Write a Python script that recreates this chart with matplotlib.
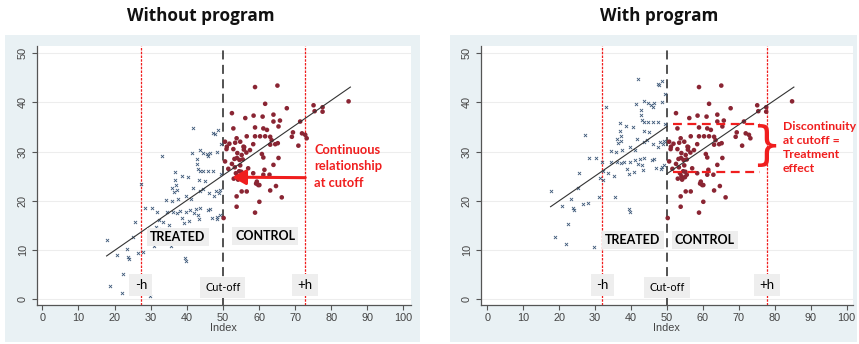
import matplotlib
matplotlib.use('Agg')
import matplotlib.pyplot as plt
from matplotlib.patches import Rectangle

# ---------------- data ----------------
treated_x = [17.8, 18.7, 20.8, 22.0, 22.4, 23.4, 23.8, 24.0, 25.2, 25.6,
             26.6, 27.3, 28.0, 28.4, 29.8, 30.3, 31.0, 31.4, 31.8, 32.3,
             32.3, 33.1, 33.5, 34.3, 34.5, 35.2, 35.6, 35.8, 36.0, 36.2,
             36.4, 36.8, 36.8, 37.1, 37.3, 37.5, 37.2, 38.0, 38.6, 38.8,
             39.3, 39.5, 39.7, 39.7, 39.7, 40.4, 40.7, 41.1, 41.4, 41.7,
             41.8, 41.0, 42.0, 42.5, 42.8, 42.9, 43.0, 43.4, 43.0, 43.5,
             43.7, 43.7, 43.7, 43.7, 44.6, 45.5, 46.0, 46.5, 44.5, 44.6,
             45.1, 45.8, 46.0, 46.2, 46.4, 47.0, 47.4, 47.4, 47.6, 47.8,
             48.0, 48.3, 48.5, 48.5, 48.7, 48.8, 49.2, 49.4, 49.5, 49.3]
treated_y_without = [12.0, 2.6, 9.0, 1.3, 5.2, 10.3, 8.6, 8.2, 12.7, 15.6,
                     9.4, 23.4, 9.6, 18.6, 0.7, 18.6, 10.8, 14.6, 17.8, 16.1,
                     14.2, 29.1, 15.6, 20.1, 17.8, 15.1, 10.8, 20.0, 22.5, 17.8,
                     21.8, 25.9, 24.2, 23.2, 22.2, 20.3, 17.6, 17.9, 25.1, 16.5,
                     15.5, 8.4, 7.7, 21.0, 17.8, 24.9, 15.8, 20.4, 29.7, 22.5,
                     34.8, 18.2, 17.5, 18.4, 28.5, 27.5, 26.5, 16.3, 17.2, 24.2,
                     26.1, 21.9, 18.6, 30.3, 29.8, 29.5, 29.0, 29.8, 22.3, 26.1,
                     24.0, 18.2, 26.1, 21.5, 18.4, 16.6, 26.1, 33.7, 21.0, 33.6,
                     22.0, 16.4, 30.0, 16.8, 34.4, 21.6, 22.2, 25.5, 31.6, 17.2]
treated_y_with = [22.0, 12.6, 19.0, 11.3, 15.2, 20.3, 18.6, 18.2, 22.7, 25.6,
                  19.4, 33.4, 19.6, 28.6, 10.7, 28.6, 20.8, 24.6, 27.8, 26.1,
                  24.2, 39.1, 25.6, 30.1, 27.8, 25.1, 20.8, 30.0, 32.5, 27.8,
                  31.8, 35.9, 34.2, 33.2, 32.2, 30.3, 27.6, 27.9, 35.1, 26.5,
                  25.5, 18.4, 17.7, 31.0, 27.8, 34.9, 25.8, 30.4, 39.7, 32.5,
                  44.8, 28.2, 27.5, 28.4, 38.5, 37.5, 36.5, 26.3, 27.2, 34.2,
                  36.1, 31.9, 28.6, 40.3, 39.8, 39.5, 39.0, 39.8, 32.3, 36.1,
                  34.0, 28.2, 36.1, 31.5, 28.4, 26.6, 36.1, 43.7, 31.0, 43.6,
                  32.0, 26.4, 40.0, 26.8, 44.4, 31.6, 32.2, 35.5, 41.6, 27.2]

control_x = [50.2, 50.6, 51.1, 50.6, 51.0, 51.5, 52.5, 52.5, 52.9, 52.9,
             53.0, 53.3, 53.4, 53.8, 53.8, 53.8, 53.9, 54.0, 54.0, 54.2,
             54.5, 54.8, 54.8, 55.0, 55.2, 55.2, 55.5, 55.7, 55.9, 56.2,
             56.6, 56.6, 57.0, 58.4, 58.4, 58.5, 58.9, 58.9, 58.9, 58.9,
             59.4, 59.8, 60.1, 60.3, 60.8, 61.0, 61.2, 61.2, 61.2, 61.7,
             61.7, 62.2, 62.9, 63.1, 63.1, 63.1, 63.5, 64.0, 64.0, 64.0,
             64.5, 64.7, 65.1, 65.4, 65.8, 66.3, 67.7, 69.1, 69.4, 70.9,
             71.4, 71.9, 72.8, 73.2, 75.1, 75.4, 77.6, 77.6, 84.8, 53.2,
             54.6, 55.5, 56.5, 57.5, 55.8, 51.8, 59.2, 60.1, 61.5, 65.4,
             65.2, 53.6, 54.3, 55.1]
control_y = [16.5, 32.0, 31.0, 28.0, 30.5, 26.5, 37.8, 27.5, 34.7, 30.5,
             24.5, 26.8, 31.8, 32.7, 20.9, 18.8, 28.7, 29.7, 25.0, 24.3,
             26.0, 32.0, 27.2, 24.8, 29.3, 21.9, 25.3, 31.0, 30.9, 36.8,
             33.1, 21.9, 26.6, 25.6, 31.5, 37.3, 43.1, 34.9, 33.1, 17.6,
             23.9, 23.2, 19.8, 33.1, 29.5, 37.1, 34.7, 28.8, 25.3, 39.7,
             33.1, 34.4, 25.3, 31.4, 33.0, 22.1, 32.3, 37.5, 36.1, 27.3,
             31.5, 23.0, 43.4, 28.7, 36.3, 20.7, 38.8, 33.0, 33.9, 31.2,
             36.1, 33.7, 33.4, 32.7, 39.4, 38.2, 39.0, 38.1, 40.2, 28.5,
             28.3, 28.4, 29.8, 30.3, 30.4, 31.6, 23.5, 23.2, 26.3, 35.1,
             31.7, 25.6, 24.6, 25.9]

# fitted lines (end points)
fit_without_x = [17.8, 85.3]
fit_without_y = [8.8, 43.1]
fit_with_left_x = [17.6, 50.0]
fit_with_left_y = [18.8, 35.1]
fit_with_right_x = [50.0, 85.3]
fit_with_right_y = [25.5, 43.1]

cutoff = 50
bw_without = [27.3, 72.8]
bw_with = [32.0, 77.9]
jump_levels = [35.6, 25.9]
jump_span = [51.6, 75.9]

titles = ["Without program", "With program"]
xticks = list(range(0, 101, 10))
yticks = list(range(0, 51, 10))

# ---------------- styling ----------------
W, H = 859, 344
fig = plt.figure(figsize=(W / 100, H / 100), dpi=100)
fig.patch.set_facecolor('white')

BG = '#e9f1f4'
RED = '#f01e1e'
NAVY = '#3d5878'
MAROON = '#8a2533'
TICKF = 'Liberation Sans'
CAL = 'Lato'

# light-blue graph regions drawn in a background axes
bg = fig.add_axes([0, 0, 1, 1], zorder=-10)
bg.set_xlim(0, W)
bg.set_ylim(H, 0)
bg.axis('off')
for (x0, y0, x1, y1) in [(5, 35, 420, 342), (450, 35, 857, 342)]:
    bg.add_patch(Rectangle((x0, y0), x1 - x0, y1 - y0, facecolor=BG,
                           edgecolor='none'))

ax1 = fig.add_axes([36.7 / W, 1 - 305 / H, 374 / W, 259.3 / H])
ax2 = fig.add_axes([480.7 / W, 1 - 305 / H, 372.3 / W, 259.3 / H])


def style(ax, xlim):
    ax.set_facecolor('white')
    ax.set_xlim(*xlim)
    ax.set_ylim(-1.16, 51.5)
    ax.set_xticks(xticks)
    ax.set_yticks(yticks)
    for s in ['top', 'right']:
        ax.spines[s].set_visible(False)
    for s in ['left', 'bottom']:
        ax.spines[s].set_color('#555555')
        ax.spines[s].set_linewidth(0.9)
    ax.yaxis.grid(True, color='#ededed', lw=0.8)
    ax.set_axisbelow(True)
    ax.tick_params(direction='out', length=3.5, width=0.8, color='#555555',
                   labelsize=7.8, labelcolor='#444444', pad=2)
    ax.tick_params(axis='y', labelrotation=90, pad=3)
    for lab in ax.get_yticklabels():
        lab.set_va('center')
    for lab in ax.get_xticklabels() + ax.get_yticklabels():
        lab.set_fontfamily(TICKF)
    ax.set_xlabel('Index', fontsize=7.8, color='#444444', labelpad=0,
                  family=TICKF)


style(ax1, (-1.55, 102.0))
style(ax2, (-1.84, 101.75))

box = dict(boxstyle='square,pad=0.25', facecolor='#eeeeee', edgecolor='none')
hbox = dict(boxstyle='square,pad=0.4', facecolor='#eeeeee', edgecolor='none')
cbox = dict(boxstyle='square,pad=0.45', facecolor='#eeeeee', edgecolor='none')


def common(ax, ty, bw, fit_segments, lab_pos):
    ax.scatter(treated_x, ty, marker='x', s=5, linewidths=0.6, color=NAVY,
               zorder=3)
    ax.scatter(control_x, control_y, marker='o', s=11, color=MAROON,
               edgecolors='none', zorder=3)
    for fxv, fyv in fit_segments:
        ax.plot(fxv, fyv, color='#333333', lw=0.8, zorder=4)
    ax.axvline(cutoff, color='#444444', lw=1.3, ls=(0, (5, 3)), zorder=2)
    for b in bw:
        ax.axvline(b, color=RED, lw=0.9, ls=(0, (2, 1)), zorder=2)
    (tx, tyy), (cx, cy) = lab_pos
    ax.text(tx, tyy, 'TREATED', family=CAL, weight='bold', fontsize=9,
            ha='center', va='center', bbox=box, zorder=5)
    ax.text(cx, cy, 'CONTROL', family=CAL, weight='bold', fontsize=9,
            ha='center', va='center', bbox=box, zorder=5)
    ax.text(bw[0], 2.9, '-h', family=CAL, fontsize=9.5, ha='center',
            va='center', bbox=hbox, zorder=5)
    ax.text(bw[1], 2.9, '+h', family=CAL, fontsize=9.5, ha='center',
            va='center', bbox=hbox, zorder=5)
    ax.text(cutoff, 2.4, 'Cut-off', family=CAL, fontsize=7.8, ha='center',
            va='center', bbox=cbox, zorder=5)


common(ax1, treated_y_without, bw_without,
       [(fit_without_x, fit_without_y)],
       ((37.5, 12.7), (61.7, 12.8)))
common(ax2, treated_y_with, bw_with,
       [(fit_with_left_x, fit_with_left_y),
        (fit_with_right_x, fit_with_right_y)],
       ((40.5, 12.05), (60.5, 12.05)))

# ---- left annotation ----
txt1 = 'Continuous\nrelationship\nat cutoff'
ax1.text(75.3, 31.6, txt1, family=CAL, weight='bold', fontsize=9.3,
         color=RED, ha='left', va='top', linespacing=1.45, zorder=6)
ax1.annotate('', xy=(52.6, 24.8), xytext=(72.8, 24.7),
             arrowprops=dict(arrowstyle='-|>,head_length=0.8,head_width=0.45',
                             color=RED, lw=2.2, shrinkA=0, shrinkB=0),
             zorder=6)

# ---- right annotation ----
for lvl in jump_levels:
    ax2.plot(jump_span, [lvl, lvl], color=RED, lw=1.6, ls=(0, (4, 2.5)),
             zorder=5)
ax2.text(81.9, 31.0, '}', family='DejaVu Sans', fontsize=34, color=RED,
         ha='right', va='center', zorder=6)
txt2 = 'Discontinuity\nat cutoff =\nTreatment\neffect'
ax2.text(82.2, 36.3, txt2, family=CAL, weight='bold', fontsize=8.8,
         color=RED, ha='left', va='top', linespacing=1.35, zorder=6)

# ---- titles ----
fig.text(201 / W, 1 - 16 / H, titles[0], family='Open Sans', weight='bold',
         fontsize=12.3, ha='center', va='center', color='#111111')
fig.text(659 / W, 1 - 16 / H, titles[1], family='Open Sans', weight='bold',
         fontsize=12.3, ha='center', va='center', color='#111111')

fig.savefig('out.png', dpi=100, facecolor='white')
